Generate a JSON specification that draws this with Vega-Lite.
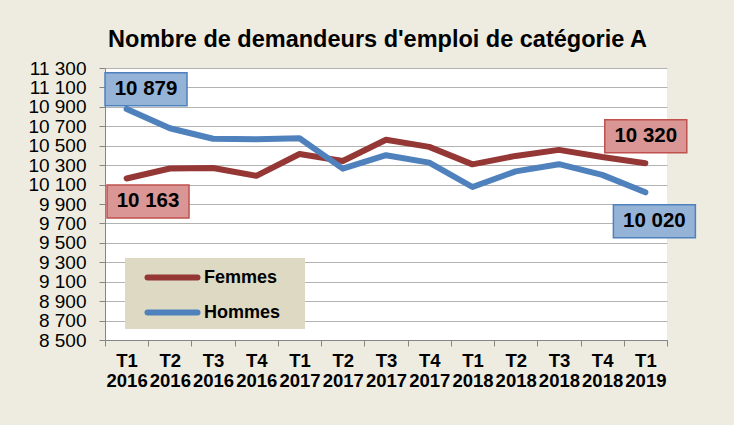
{
  "$schema": "https://vega.github.io/schema/vega-lite/v6.json",
  "width": 562,
  "height": 272,
  "autosize": "none",
  "padding": {"left": 105, "top": 68, "right": 67, "bottom": 85},
  "background": "#EEECE1",
  "title": {
    "text": "Nombre de demandeurs d'emploi de catégorie A",
    "font": "Liberation Sans",
    "fontSize": 23.5,
    "fontWeight": "bold",
    "color": "#000000",
    "anchor": "middle",
    "dx": -8.5,
    "dy": 22,
    "offset": 11,
    "baseline": "alphabetic"
  },
  "config": {
    "view": {"fill": "white", "stroke": null},
    "font": "Liberation Sans"
  },
  "datasets": {
    "series": [
      {"q": "T1 2016", "s": "Femmes", "v": 10163},
      {"q": "T2 2016", "s": "Femmes", "v": 10265},
      {"q": "T3 2016", "s": "Femmes", "v": 10270},
      {"q": "T4 2016", "s": "Femmes", "v": 10190},
      {"q": "T1 2017", "s": "Femmes", "v": 10415},
      {"q": "T2 2017", "s": "Femmes", "v": 10343},
      {"q": "T3 2017", "s": "Femmes", "v": 10561},
      {"q": "T4 2017", "s": "Femmes", "v": 10488},
      {"q": "T1 2018", "s": "Femmes", "v": 10308},
      {"q": "T2 2018", "s": "Femmes", "v": 10395},
      {"q": "T3 2018", "s": "Femmes", "v": 10457},
      {"q": "T4 2018", "s": "Femmes", "v": 10383},
      {"q": "T1 2019", "s": "Femmes", "v": 10320},
      {"q": "T1 2016", "s": "Hommes", "v": 10879},
      {"q": "T2 2016", "s": "Hommes", "v": 10680},
      {"q": "T3 2016", "s": "Hommes", "v": 10572},
      {"q": "T4 2016", "s": "Hommes", "v": 10566},
      {"q": "T1 2017", "s": "Hommes", "v": 10576},
      {"q": "T2 2017", "s": "Hommes", "v": 10264},
      {"q": "T3 2017", "s": "Hommes", "v": 10402},
      {"q": "T4 2017", "s": "Hommes", "v": 10326},
      {"q": "T1 2018", "s": "Hommes", "v": 10075},
      {"q": "T2 2018", "s": "Hommes", "v": 10236},
      {"q": "T3 2018", "s": "Hommes", "v": 10310},
      {"q": "T4 2018", "s": "Hommes", "v": 10200},
      {"q": "T1 2019", "s": "Hommes", "v": 10020}
    ],
    "labels": [
      {"q": "T1 2016", "s": "Hommes", "v": 10879, "txt": "10 879"},
      {"q": "T1 2016", "s": "Femmes", "v": 10163, "txt": "10 163"},
      {"q": "T1 2019", "s": "Femmes", "v": 10320, "txt": "10 320"},
      {"q": "T1 2019", "s": "Hommes", "v": 10020, "txt": "10 020"}
    ]
  },
  "encoding": {
    "x": {
      "field": "q",
      "type": "nominal",
      "title": null,
      "scale": {
        "type": "band",
        "domain": ["T1 2016", "T2 2016", "T3 2016", "T4 2016", "T1 2017", "T2 2017", "T3 2017", "T4 2017", "T1 2018", "T2 2018", "T3 2018", "T4 2018", "T1 2019"],
        "paddingInner": 0,
        "paddingOuter": 0
      },
      "axis": {
        "labelAngle": 0,
        "labelExpr": "split(datum.label, ' ')",
        "labelFont": "Liberation Sans",
        "labelFontSize": 18.5,
        "labelFontWeight": "bold",
        "labelColor": "#000000",
        "labelLineHeight": 20,
        "labelPadding": 5,
        "labelOverlap": false,
        "labelBound": false,
        "labelFlush": false,
        "tickBand": "extent",
        "tickSize": 6,
        "tickColor": "#868686",
        "domainColor": "#868686",
        "grid": false
      }
    },
    "y": {
      "field": "v",
      "type": "quantitative",
      "title": null,
      "scale": {"domain": [8500, 11300], "nice": false, "zero": false},
      "axis": {
        "values": [8500, 8700, 8900, 9100, 9300, 9500, 9700, 9900, 10100, 10300, 10500, 10700, 10900, 11100, 11300],
        "labelExpr": "replace(format(datum.value, ','), ',', ' ')",
        "labelFont": "Liberation Sans",
        "labelFontSize": 19,
        "labelColor": "#000000",
        "labelPadding": 13,
        "labelOverlap": false,
        "labelBound": false,
        "labelFlush": false,
        "tickSize": 6,
        "tickColor": "#868686",
        "domainColor": "#868686",
        "gridColor": "#B3B3B3",
        "gridWidth": 1
      }
    }
  },
  "layer": [
    {
      "data": {"name": "series"},
      "mark": {"type": "line", "strokeWidth": 6, "strokeCap": "round", "strokeJoin": "round"},
      "encoding": {
        "color": {
          "field": "s",
          "type": "nominal",
          "scale": {"domain": ["Femmes", "Hommes"], "range": ["#953735", "#4F81BD"]},
          "legend": {
            "orient": "none",
            "legendX": 20,
            "legendY": 190,
            "title": null,
            "fillColor": "#DDD9C3",
            "padding": 4,
            "symbolType": "M-2,0L2,0",
            "symbolSize": 625,
            "symbolStrokeWidth": 6,
            "symbolOffset": 28,
            "labelOffset": 16,
            "labelFont": "Liberation Sans",
            "labelFontSize": 18,
            "labelFontWeight": "bold",
            "labelColor": "#000000",
            "rowPadding": 7,
            "labelExpr": "datum.label + '\u00a0\u00a0\u00a0\u00a0\u200b'",
            "encode": {"symbols": {"update": {"strokeCap": {"value": "round"}}}}
          }
        }
      }
    },
    {
      "data": {"name": "labels"},
      "transform": [{"filter": "datum.txt == '10 879'"}],
      "layer": [
        {"mark": {"type": "point", "shape": "M-1,-0.4024L1,-0.4024L1,0.4024L-1,0.4024Z", "size": 6724, "filled": true, "fill": "#95B3D7", "stroke": "#4F81BD", "strokeWidth": 1.5, "opacity": 1, "xOffset": 19.4, "yOffset": -19.6}},
        {"mark": {"type": "text", "font": "Liberation Sans", "fontSize": 20.5, "fontWeight": "bold", "color": "#000000", "align": "center", "baseline": "middle", "xOffset": 19.4, "yOffset": -19.6}, "encoding": {"text": {"field": "txt"}}}
      ]
    },
    {
      "data": {"name": "labels"},
      "transform": [{"filter": "datum.txt == '10 163'"}],
      "layer": [
        {"mark": {"type": "point", "shape": "M-1,-0.4024L1,-0.4024L1,0.4024L-1,0.4024Z", "size": 6724, "filled": true, "fill": "#D99694", "stroke": "#C0504D", "strokeWidth": 1.5, "opacity": 1, "xOffset": 21.4, "yOffset": 23}},
        {"mark": {"type": "text", "font": "Liberation Sans", "fontSize": 20.5, "fontWeight": "bold", "color": "#000000", "align": "center", "baseline": "middle", "xOffset": 21.4, "yOffset": 23}, "encoding": {"text": {"field": "txt"}}}
      ]
    },
    {
      "data": {"name": "labels"},
      "transform": [{"filter": "datum.txt == '10 320'"}],
      "layer": [
        {"mark": {"type": "point", "shape": "M-1,-0.4024L1,-0.4024L1,0.4024L-1,0.4024Z", "size": 6724, "filled": true, "fill": "#D99694", "stroke": "#C0504D", "strokeWidth": 1.5, "opacity": 1, "xOffset": 0.4, "yOffset": -27}},
        {"mark": {"type": "text", "font": "Liberation Sans", "fontSize": 20.5, "fontWeight": "bold", "color": "#000000", "align": "center", "baseline": "middle", "xOffset": 0.4, "yOffset": -27}, "encoding": {"text": {"field": "txt"}}}
      ]
    },
    {
      "data": {"name": "labels"},
      "transform": [{"filter": "datum.txt == '10 020'"}],
      "layer": [
        {"mark": {"type": "point", "shape": "M-1,-0.4024L1,-0.4024L1,0.4024L-1,0.4024Z", "size": 6724, "filled": true, "fill": "#95B3D7", "stroke": "#4F81BD", "strokeWidth": 1.5, "opacity": 1, "xOffset": 9, "yOffset": 28.8}},
        {"mark": {"type": "text", "font": "Liberation Sans", "fontSize": 20.5, "fontWeight": "bold", "color": "#000000", "align": "center", "baseline": "middle", "xOffset": 9, "yOffset": 28.8}, "encoding": {"text": {"field": "txt"}}}
      ]
    }
  ]
}
